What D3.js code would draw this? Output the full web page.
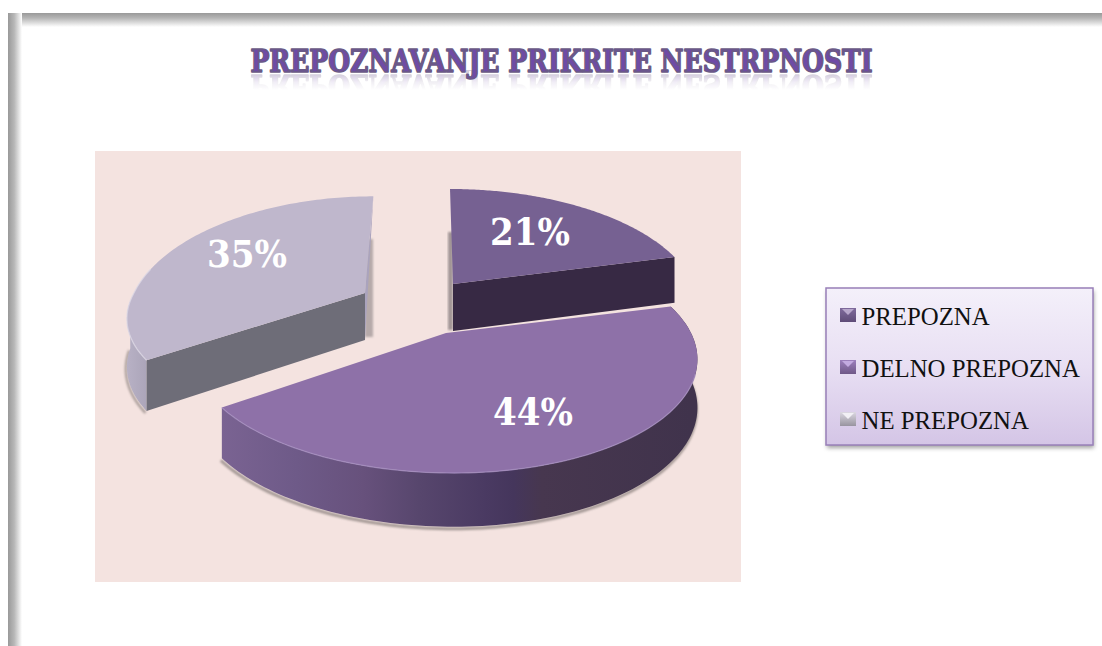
<!DOCTYPE html>
<html><head><meta charset="utf-8">
<style>html,body{margin:0;padding:0;background:#fff}svg{display:block}</style>
<script src="https://cdn.jsdelivr.net/npm/d3@7"></script></head>
<body><div id="c"></div>
<script>
const categories = ["PREPOZNA", "DELNO PREPOZNA", "NE PREPOZNA"];
const values = [21, 44, 35];
const titleText = "PREPOZNAVANJE PRIKRITE NESTRPNOSTI";

const W = 1102, H = 646;
const topColors = ["#766192", "#8e71a8", "#bfb7cc"];
const radialApex = [[453, 284], [446, 333], [365, 293]];
// [x radius right, x radius left, y radius back, y radius front]
const radii = [[241, 241, 114, 114], [245, 249, 112, 112], [232, 231, 116, 101]];
const vanishX = [435, 415, 415];
const labelPos = [[530, 245], [533, 425], [247, 267]];
const persp = 0.2, depth = 47;
const serif = "'DejaVu Serif Condensed','DejaVu Serif',serif";

const svg = d3.select("#c").append("svg").attr("width", W).attr("height", H);
const defs = svg.append("defs");

function lin(id, attrs, stops) {
  const g = defs.append("linearGradient").attr("id", id);
  Object.entries(attrs).forEach(([k, v]) => g.attr(k, v));
  stops.forEach(([o, c, a]) => g.append("stop").attr("offset", o).attr("stop-color", c).attr("stop-opacity", a === undefined ? 1 : a));
}
lin("frameT", {x1:0,y1:0,x2:0,y2:1}, [[0,"#999"],[0.35,"#b4b4b4"],[1,"#fff"]]);
lin("frameL", {x1:0,y1:0,x2:1,y2:0}, [[0,"#999"],[0.45,"#b8b8b8"],[1,"#fff"]]);
lin("legendBg", {x1:0,y1:0,x2:0,y2:1}, [[0,"#f4f0fa"],[0.5,"#e8dff3"],[1,"#d4c5e6"]]);
lin("rim44", {gradientUnits:"userSpaceOnUse",x1:222,y1:0,x2:692,y2:0},
  [[0,"#7a6392"],[0.16,"#6e5a88"],[0.3,"#67517c"],[0.42,"#57466d"],[0.56,"#4a3a62"],[0.62,"#45365c"],[0.68,"#47374f"],[1,"#40334c"]]);
lin("rim35", {gradientUnits:"userSpaceOnUse",x1:125,y1:0,x2:155,y2:0}, [[0,"#b9b2c6"],[1,"#a6a0b4"]]);
lin("reflFade", {gradientUnits:"userSpaceOnUse",x1:0,y1:74,x2:0,y2:90}, [[0,"#fff",0.3],[0.5,"#fff",0.1],[1,"#fff",0]]);
lin("keyA", {x1:0,y1:0,x2:0,y2:1}, [[0,"#7f6a9c"],[1,"#5f4c78"]]);
lin("keyB", {x1:0,y1:0,x2:0,y2:1}, [[0,"#9d80bd"],[1,"#6f5887"]]);
lin("keyC", {x1:0,y1:0,x2:0,y2:1}, [[0,"#dcd8e2"],[1,"#98949f"]]);
const blur = (id, s) => defs.append("filter").attr("id", id).attr("x","-20%").attr("y","-20%").attr("width","140%").attr("height","140%")
  .append("feGaussianBlur").attr("stdDeviation", s);
blur("soft", 2); blur("soft1", 1.2);
defs.append("mask").attr("id","reflMask").attr("maskUnits","userSpaceOnUse")
  .attr("x",240).attr("y",70).attr("width",640).attr("height",24)
  .append("rect").attr("x",240).attr("y",70).attr("width",640).attr("height",24).attr("fill","url(#reflFade)");

// frame
svg.append("rect").attr("x",8).attr("y",13).attr("width",W-8).attr("height",14).attr("fill","url(#frameT)");
svg.append("rect").attr("x",8).attr("y",13).attr("width",14).attr("height",H-13).attr("fill","url(#frameL)");

// plot area
svg.append("rect").attr("x",95).attr("y",151).attr("width",646).attr("height",431).attr("fill","#f4e3e0");

// title, with its reflection as a masked mirror of the same text
svg.append("text").attr("id","chartTitle").attr("x",561.5).attr("y",72).attr("text-anchor","middle").attr("font-family",serif)
  .attr("font-weight",700).attr("font-size",31).attr("textLength",622).attr("lengthAdjust","spacingAndGlyphs")
  .attr("fill","#6f4aa6").attr("stroke","#6a5a86").attr("stroke-width",1.6).attr("stroke-linejoin","round").text(titleText);
svg.append("g").attr("mask","url(#reflMask)")
  .append("use").attr("href","#chartTitle").attr("transform","translate(0,147) scale(1,-1)");

// pie
const arcs = d3.pie().sort(null)(values);
function project(i, u, v) {
  const s = 1 / (1 + persp * v);
  const [ax, ay] = radialApex[i], [rxR, rxL, ryB, ryF] = radii[i], vp = vanishX[i];
  const rx = u < 0 ? rxL : rxR, ry = v < 0 ? ryF : ryB;
  return { x: vp + (ax - vp + rx * u) * s, y: ay - ry * v * s, d: depth * Math.pow(s, 0.6) };
}
const polar = (i, a) => project(i, Math.sin(a), Math.cos(a));
const line = d3.line().x(p => p.x).y(p => p.y);
const down = p => ({ x: p.x, y: p.y + p.d, d: p.d });

function rimPts(i, a0, a1) {
  return d3.range(0, 121).map(k => polar(i, a0 + (a1 - a0) * k / 120));
}
const layer = svg.append("g");
const order = [2, 0, 1];
order.forEach(i => {
  const a = arcs[i], g = layer.append("g");
  const apex = project(i, 0, 0);
  const rim = rimPts(i, a.startAngle, a.endAngle);
  const endP = rim[rim.length - 1];
  if (i === 0) {
    g.append("path").attr("d", line([{x:apex.x-5,y:apex.y-52},{x:apex.x-5,y:apex.y+46},{x:apex.x,y:apex.y+46},{x:apex.x,y:apex.y-52}]))
      .attr("fill","#6c6466").attr("opacity",.6).attr("filter","url(#soft1)");
  }
  if (i === 2) {
    g.append("path").attr("d", line([{x:apex.x,y:apex.y-54},{x:apex.x+8,y:apex.y-54},{x:apex.x+8,y:apex.y+44},{x:apex.x,y:apex.y+44}]))
      .attr("fill","#7a7274").attr("opacity",.5).attr("filter","url(#soft1)");
  }
  if (i === 1) {
    g.append("path").attr("d", line(rim.map(down)) ).attr("fill","none").attr("stroke","#5f5855")
      .attr("stroke-width",3).attr("opacity",.55).attr("filter","url(#soft1)").attr("transform","translate(-1,2)");
    g.append("path").attr("d", line([...rim, ...rim.map(down).reverse()]) + "Z").attr("fill","url(#rim44)");
  }
  if (i === 2) {
    const vis = rim.filter(p => p.y > 300);
    g.append("path").attr("d", line(vis.map(down))).attr("fill","none").attr("stroke","#5f5855")
      .attr("stroke-width",2.5).attr("opacity",.5).attr("filter","url(#soft1)").attr("transform","translate(-1,2)");
    g.append("path").attr("d", line([...vis, ...vis.map(down).reverse()]) + "Z").attr("fill","url(#rim35)");
    g.append("path").attr("d", line([apex, rim[0], down(rim[0]), down(apex)]) + "Z").attr("fill","#6e6d78");
    g.append("path").attr("d", line([apex, endP, down(apex)]) + "Z").attr("fill","#aaa3bd");
  }
  if (i === 0) {
    g.append("path").attr("d", line([apex, endP, down(endP), down(apex)]) + "Z").attr("fill","#372944");
  }
  g.append("path").attr("d", line([apex, ...rim]) + "Z").attr("fill", topColors[i]);
  const hi = rim.filter(p => p.y > apex.y + (i === 1 ? 40 : -25));
  if (i !== 0) g.append("path").attr("d", line(hi)).attr("fill","none")
    .attr("stroke", i === 1 ? "#a58fc0" : "#dcd8e6").attr("stroke-width",1.3).attr("opacity",.75);
});

// labels
svg.append("g").selectAll("text").data(values).join("text")
  .attr("x",(d,i)=>labelPos[i][0]).attr("y",(d,i)=>labelPos[i][1])
  .attr("text-anchor","middle").attr("font-family",serif).attr("font-weight",700).attr("font-size",37)
  .attr("textLength",80).attr("lengthAdjust","spacingAndGlyphs")
  .attr("fill","#fff").text(d => d + "%");

// legend
const lx = 826, ly = 288, lw = 267, lh = 157;
svg.append("rect").attr("x",lx+1).attr("y",ly+3).attr("width",lw).attr("height",lh).attr("fill","#555").attr("opacity",.55).attr("filter","url(#soft)");
svg.append("rect").attr("x",lx).attr("y",ly).attr("width",lw).attr("height",lh).attr("fill","url(#legendBg)").attr("stroke","#987fb8").attr("stroke-width",1.5);
const ky = d3.scalePoint().domain(categories).range([315, 419]);
const keys = ["keyA","keyB","keyC"], keyTop = ["#b7a6cb","#c3aae0","#f2f0f5"];
const li = svg.append("g").selectAll("g").data(categories).join("g").attr("transform", d => `translate(0,${ky(d)})`);
li.append("rect").attr("x",840).attr("y",-7).attr("width",16).attr("height",14).attr("fill",(d,i)=>"url(#"+keys[i]+")");
li.append("path").attr("d","M842,-6L854,-6L848,0Z").attr("fill",(d,i)=>keyTop[i]);
li.append("text").attr("x",861.5).attr("y",10).attr("font-family","'Liberation Serif',serif").attr("font-size",24.8)
  .attr("fill","#111").text(d => d);
</script></body></html>
